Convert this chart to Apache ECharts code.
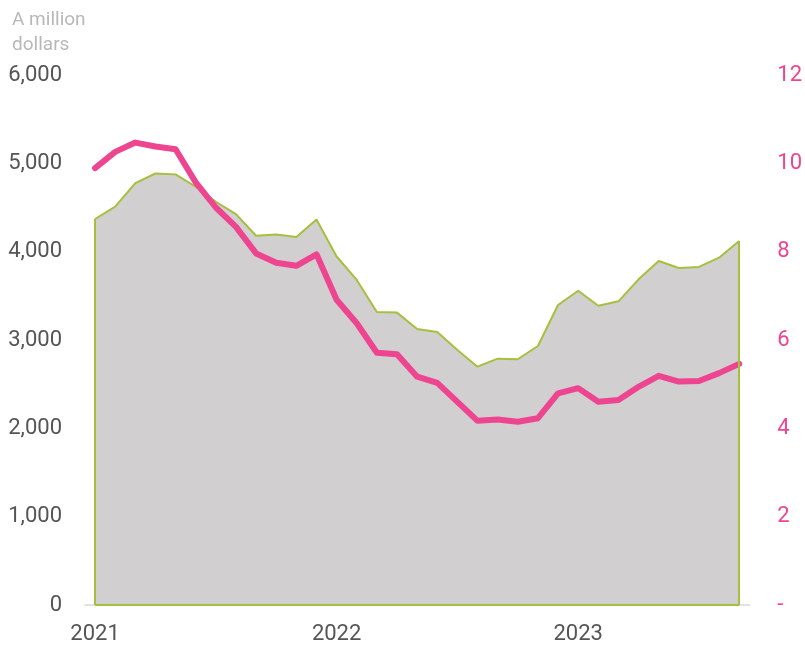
<!DOCTYPE html>
<html>
<head>
<meta charset="utf-8">
<script src="https://cdn.jsdelivr.net/npm/echarts@6/dist/echarts.min.js"></script>
<style>
  html, body { margin: 0; padding: 0; background: #fff; }
  #chart { width: 805px; height: 647px; }
</style>
</head>
<body>
<div id="chart"></div>
<script>
// monthly, Jan 2021 .. Sep 2023
const months = [
  '2021-01', '2021-02', '2021-03', '2021-04', '2021-05', '2021-06',
  '2021-07', '2021-08', '2021-09', '2021-10', '2021-11', '2021-12',
  '2022-01', '2022-02', '2022-03', '2022-04', '2022-05', '2022-06',
  '2022-07', '2022-08', '2022-09', '2022-10', '2022-11', '2022-12',
  '2023-01', '2023-02', '2023-03', '2023-04', '2023-05', '2023-06',
  '2023-07', '2023-08', '2023-09'
]
// area, left axis (million dollars)
const amount = [
  4370, 4510, 4775, 4885, 4875, 4735, 4565, 4425, 4180, 4195, 4165, 4365,
  3945, 3680, 3317, 3310, 3125, 3090, 2887, 2698, 2789, 2782, 2932, 3396,
  3558, 3388, 3438, 3687, 3894, 3815, 3827, 3932, 4121
]
// line, right axis
const rate = [
  9.89, 10.26, 10.47, 10.38, 10.32, 9.57, 9.00, 8.56, 7.96, 7.75, 7.68, 7.94,
  6.91, 6.38, 5.71, 5.68, 5.17, 5.03, 4.60, 4.17, 4.20, 4.15, 4.23, 4.79,
  4.91, 4.60, 4.64, 4.94, 5.19, 5.06, 5.07, 5.25, 5.46
]
const leftTicks = { min: 0, max: 6000, interval: 1000 }
const rightTicks = { min: 0, max: 12, interval: 2 }

const green = '#a5c03c'
const pink = '#ee4590'
const last = months.length - 1

const chart = echarts.init(document.getElementById('chart'))
chart.setOption({
  animation: false,
  title: {
    text: 'A million\ndollars',
    left: 7,
    top: 3,
    textStyle: {
      fontFamily: 'Roboto',
      fontWeight: 'normal',
      fontSize: 19,
      lineHeight: 25,
      color: '#b8b8b8'
    }
  },
  grid: { left: 85, right: 53, top: 75, bottom: 42 },
  xAxis: {
    type: 'category',
    data: months,
    boundaryGap: true,
    axisLine: { show: true, lineStyle: { color: '#e2e2e2', width: 2 } },
    axisTick: { show: false },
    axisLabel: {
      interval: function (idx, val) { return val.slice(5) === '01' },
      formatter: function (val) { return val.slice(0, 4) },
      margin: 18,
      fontFamily: 'Roboto',
      fontSize: 22,
      color: '#555'
    }
  },
  yAxis: [
    {
      type: 'value',
      min: leftTicks.min,
      max: leftTicks.max,
      interval: leftTicks.interval,
      axisLine: { show: false },
      axisTick: { show: false },
      splitLine: { show: false },
      axisLabel: {
        margin: 23,
        fontFamily: 'Roboto',
        fontSize: 22,
        color: '#555',
        formatter: function (v) { return v.toLocaleString('en-US') }
      }
    },
    {
      type: 'value',
      position: 'right',
      min: rightTicks.min,
      max: rightTicks.max,
      interval: rightTicks.interval,
      axisLine: { show: false },
      axisTick: { show: false },
      splitLine: { show: false },
      axisLabel: {
        margin: 28,
        fontFamily: 'Roboto',
        fontSize: 22,
        color: pink,
        formatter: function (v) { return v === 0 ? '-' : v }
      }
    }
  ],
  series: [
    {
      type: 'line',
      yAxisIndex: 0,
      data: amount,
      symbol: 'none',
      lineStyle: { color: green, width: 2 },
      areaStyle: { color: '#d1cfd0', opacity: 1 },
      z: 2,
      markLine: {
        silent: true,
        symbol: ['none', 'none'],
        label: { show: false },
        lineStyle: { color: green, width: 2, type: 'solid' },
        data: [
          [{ coord: [months[0], 0] }, { coord: [months[0], amount[0]] }],
          [{ coord: [months[last], 0] }, { coord: [months[last], amount[last]] }],
          [{ coord: [months[0], 0] }, { coord: [months[last], 0] }]
        ]
      }
    },
    {
      type: 'line',
      yAxisIndex: 1,
      data: rate,
      symbol: 'none',
      lineStyle: { color: pink, width: 6, cap: 'round', join: 'round' },
      z: 3
    }
  ]
})
</script>
</body>
</html>
